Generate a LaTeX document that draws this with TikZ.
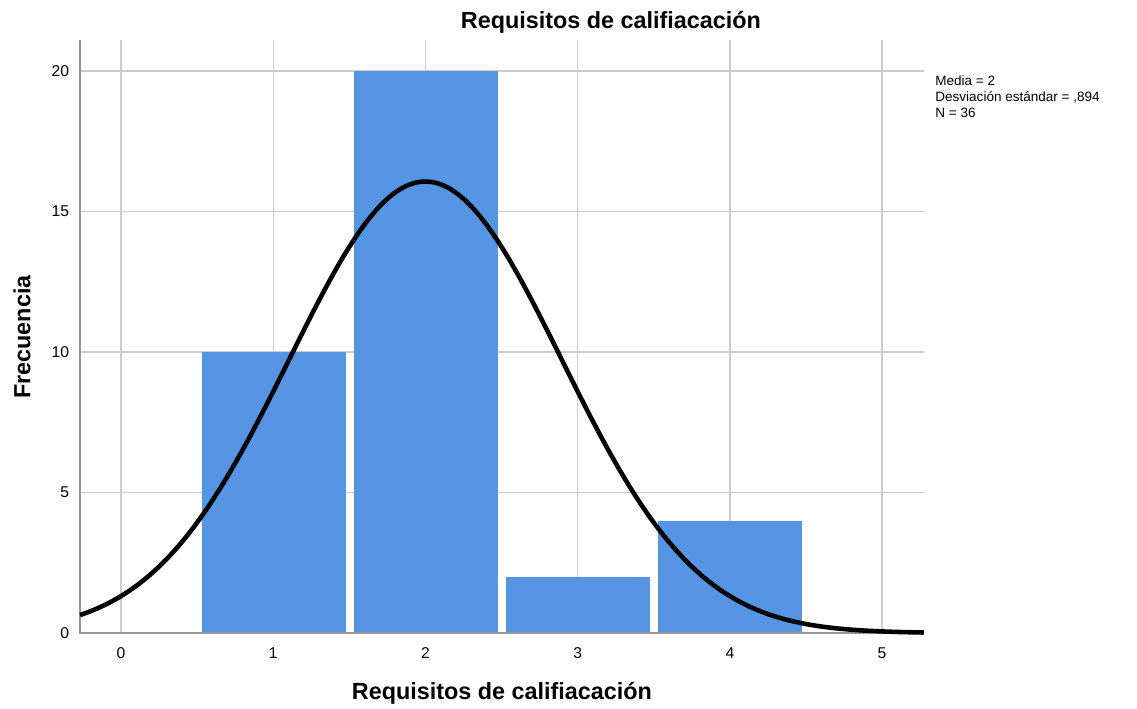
\documentclass[tikz,border=0pt]{standalone}
\usepackage{fontspec}
\setmainfont{Liberation Sans}
\definecolor{barra}{RGB}{85,149,228}
\definecolor{rejilla}{RGB}{204,204,204}
\definecolor{eje}{RGB}{150,150,150}
\begin{document}
\begin{tikzpicture}[x=3.044cm, y=0.562cm,
  titulo/.style={font=\fontsize{13.3}{16}\selectfont\bfseries},
  marca/.style={font=\fontsize{8.9}{10}\selectfont},
  leyenda/.style={font=\fontsize{7.7}{9.1}\selectfont, align=left, inner sep=0pt},
  linrej/.style={rejilla, line width=0.8pt},
  bar/.style={fill=barra, draw=none}]
  \useasboundingbox (-0.795, -2.669) rectangle (6.675, 22.527);
  % koordinate
  \coordinate (O) at (-0.269, 0);
  \coordinate (T) at (-0.269, 21.1);
  \coordinate (R) at (5.276, 0);
  % rejilla
  \draw [linrej] (0, 0) -- (0, 21.1);
  \draw [linrej] (1, 0) -- (1, 21.1);
  \draw [linrej] (2, 0) -- (2, 21.1);
  \draw [linrej] (3, 0) -- (3, 21.1);
  \draw [linrej] (4, 0) -- (4, 21.1);
  \draw [linrej] (5, 0) -- (5, 21.1);
  \draw [linrej] (-0.269, 5) -- (5.276, 5);
  \draw [linrej] (-0.269, 10) -- (5.276, 10);
  \draw [linrej] (-0.269, 15) -- (5.276, 15);
  \draw [linrej] (-0.269, 20) -- (5.276, 20);
  % barras
  \fill [bar] (0.530, 0) rectangle (1.476, 10);
  \fill [bar] (1.530, 0) rectangle (2.476, 20);
  \fill [bar] (2.530, 0) rectangle (3.476, 2);
  \fill [bar] (3.530, 0) rectangle (4.476, 4);
  % ejes
  \draw [eje, line width=1pt] (T) -- (O) -- (R);
  % curva normal
  \draw [black, line width=2.6pt, domain=-0.269:5.276, samples=150, smooth]
        plot (\x, {16.065*exp(-(\x-2)^2/1.5985)});
  % oznake
  \node [titulo] (tit) at (3.219, 21.74) {Requisitos de califiacación};
  \node [titulo] (xlab) at (2.503, -2.135) {Requisitos de califiacación};
  \node [titulo, rotate=90] (ylab) at (-0.650, 10.53) {Frecuencia};
  \node [marca] (x0) at (0, -0.70) {0};
  \node [marca] (x1) at (1, -0.70) {1};
  \node [marca] (x2) at (2, -0.70) {2};
  \node [marca] (x3) at (3, -0.70) {3};
  \node [marca] (x4) at (4, -0.70) {4};
  \node [marca] (x5) at (5, -0.70) {5};
  \node [marca, anchor=east] (y0) at (-0.300, 0) {0};
  \node [marca, anchor=east] (y5) at (-0.300, 5) {5};
  \node [marca, anchor=east] (y10) at (-0.300, 10) {10};
  \node [marca, anchor=east] (y15) at (-0.300, 15) {15};
  \node [marca, anchor=east] (y20) at (-0.300, 20) {20};
  \node [leyenda, anchor=north west] (ley) at (5.348, 19.85)
        {Media = 2\\Desviación estándar = ,894\\N = 36};
\end{tikzpicture}
\end{document}
